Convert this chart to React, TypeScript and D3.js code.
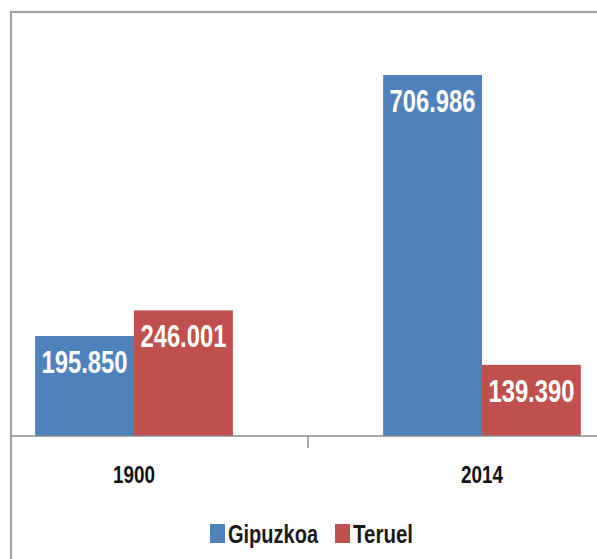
import React from 'react';
import * as d3 from 'd3';

const years = ['1900', '2014'];
const series = ['Gipuzkoa', 'Teruel'];
const gipuzkoa = [195850, 706986];
const teruel = [246001, 139390];
const labels = [['195.850', '246.001'], ['706.986', '139.390']];
const colors = ['#4f81bd', '#c0504d'];

const App = () => {
    const width = 597;
    const height = 559;
    const baseline = 436;

    // the picture is a crop, so the bands run past both edges
    const x = d3.scaleBand().domain(years).range([-40, 656]);
    const inner = d3.scaleBand()
        .domain(series)
        .range([0, x.bandwidth()])
        .paddingOuter(0.76);
    const y = d3.scaleLinear().domain([0, 800000]).range([baseline, 27.5]);

    const rows = years.map((yr, i) => ({ yr, values: [gipuzkoa[i], teruel[i]] }));
    const narrow = '"Liberation Sans Narrow", "Liberation Sans", Arial, sans-serif';

    return (
        <svg
            width={width}
            height={height}
            style={{ position: 'absolute', top: 0, left: 0, background: '#fff' }}
        >
            <rect x={11} y={12} width={700} height={700} fill="none" stroke="#a3a3a3" strokeWidth={2.2} />

            {rows.map((r, i) => (
                <g key={r.yr} transform={`translate(${x(r.yr)},0)`}>
                    {r.values.map((v, j) => (
                        <g key={series[j]}>
                            <rect
                                x={inner(series[j])}
                                y={y(v)}
                                width={inner.bandwidth()}
                                height={baseline - y(v)}
                                fill={colors[j]}
                            />
                            <text
                                x={inner(series[j]) + inner.bandwidth() / 2}
                                y={y(v) + 37}
                                textAnchor="middle"
                                fill="#fff"
                                fontFamily={narrow}
                                fontWeight="bold"
                                fontSize={31}
                                textLength={86}
                                lengthAdjust="spacingAndGlyphs"
                            >
                                {labels[i][j]}
                            </text>
                        </g>
                    ))}
                    <text
                        x={x.bandwidth() / 2}
                        y={483}
                        textAnchor="middle"
                        fill="#111"
                        fontFamily={narrow}
                        fontWeight="bold"
                        fontSize={23}
                        textLength={42}
                        lengthAdjust="spacingAndGlyphs"
                    >
                        {r.yr}
                    </text>
                </g>
            ))}

            <line x1={10} x2={width} y1={baseline} y2={baseline} stroke="#8c8c8c" strokeWidth={1.5} />
            <line x1={x('2014')} x2={x('2014')} y1={baseline} y2={448} stroke="#8c8c8c" strokeWidth={1.5} />

            {series.map((s, j) => {
                const lx = [210, 335][j];
                const tw = [90, 60][j];
                return (
                    <g key={s}>
                        <rect x={lx} y={524} width={15} height={19} fill={colors[j]} />
                        <text
                            x={lx + 18}
                            y={543}
                            fill="#1a1a1a"
                            fontFamily={narrow}
                            fontWeight="bold"
                            fontSize={25}
                            textLength={tw}
                            lengthAdjust="spacingAndGlyphs"
                        >
                            {s}
                        </text>
                    </g>
                );
            })}
        </svg>
    );
};

export default App;
